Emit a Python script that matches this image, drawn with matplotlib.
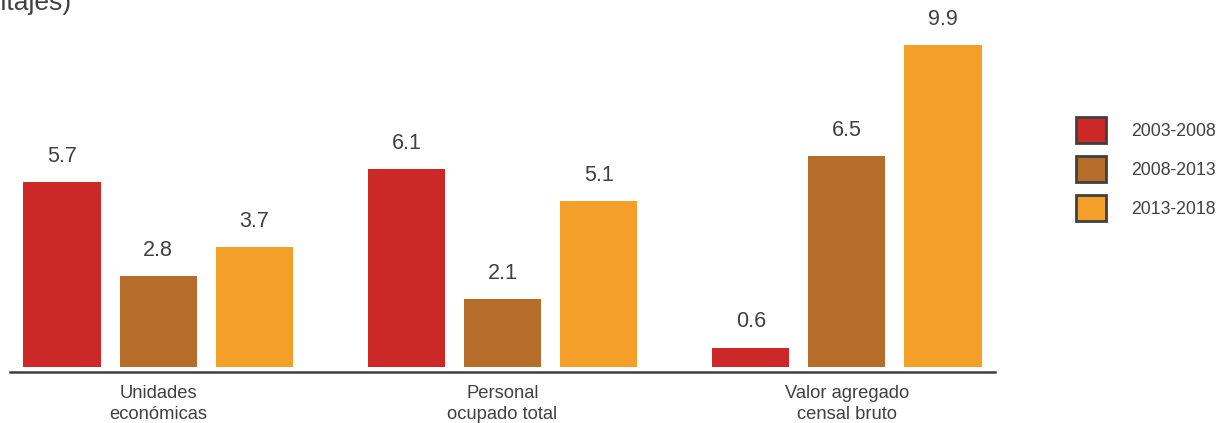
import numpy as np
import matplotlib
matplotlib.use("Agg")
import matplotlib.pyplot as plt
from matplotlib.patches import Patch

plt.rcParams["font.family"] = ["Liberation Sans", "DejaVu Sans"]

categories = ["Unidades\neconómicas", "Personal\nocupado total", "Valor agregado\ncensal bruto"]
periods = ["2003-2008", "2008-2013", "2013-2018"]
values = {
    "2003-2008": [5.7, 6.1, 0.6],
    "2008-2013": [2.8, 2.1, 6.5],
    "2013-2018": [3.7, 5.1, 9.9],
}
colors = ["#CC2828", "#B76D2A", "#F59F2B"]
text_col = "#404040"

W, H = 1220, 423
fig = plt.figure(figsize=(W / 100, H / 100), dpi=100)
# axes spans from the baseline line (y=372px) to the top, x 10..995px
ax = fig.add_axes([10 / W, (H - 372) / H, (995 - 10) / W, (372 - 20) / H])

x = np.arange(len(categories))
offset = 0.279
width = 0.224
for i, (p, c) in enumerate(zip(periods, colors)):
    xs = x + (i - 1) * offset
    ax.bar(xs, values[p], width=width, color=c, linewidth=0)
    for xi, v in zip(xs, values[p]):
        ax.annotate(f"{v:.1f}", (xi, v), xytext=(0, 18.5), textcoords="offset points",
                    ha="center", va="center", fontsize=15.5, color=text_col)

# ~32.5 px per unit, bars start 5px above the axis line
ppu = 32.5
ax.set_ylim(-5 / ppu, 347 / ppu)
ax.set_xlim(-0.43, 2.43)
for s in ["top", "right", "left"]:
    ax.spines[s].set_visible(False)
ax.spines["bottom"].set_color(text_col)
ax.spines["bottom"].set_linewidth(1.8)
ax.set_yticks([])
ax.set_xticks(x)
ax.set_xticklabels(categories, fontsize=13.2, color=text_col, linespacing=1.35)
ax.tick_params(axis="x", length=0, pad=9)

handles = [Patch(facecolor=c, edgecolor=text_col, linewidth=2) for c in colors]
fig.legend(handles, periods, loc="upper left",
           bbox_to_anchor=(1076 / W, (H - 117) / H), frameon=False,
           fontsize=12.7, labelcolor=text_col, handlelength=1.7, handleheight=1.89,
           labelspacing=0.74, handletextpad=1.4, borderpad=0, borderaxespad=0)

fig.text(72 / W, 1 - 10 / H, "(Porcentajes)", ha="right", va="baseline",
         fontsize=19, color=text_col)

fig.savefig("out.png", dpi=100)
